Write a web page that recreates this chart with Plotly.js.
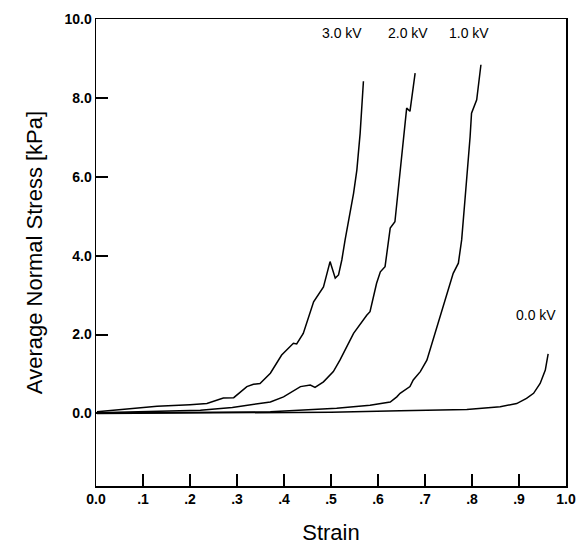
<!DOCTYPE html>
<html>
<head>
<meta charset="utf-8">
<script src="https://cdn.plot.ly/plotly-3.0.1.min.js"></script>
<style>html,body{margin:0;padding:0;background:#fff}#chart{width:585px;height:545px}#diag{position:absolute;left:2px;bottom:0;font:9px sans-serif;color:#999}</style>
</head>
<body>
<div id="chart"></div>
<div id="diag"></div>
<script>
window.onerror = function(m){ document.getElementById('diag').textContent += ' ERR:' + m; };
// Series: strain (x) vs average normal stress in kPa (y)
const kv30_strain = [0.002,0.059,0.130,0.200,0.236,0.271,0.293,0.321,0.335,0.349,0.371,0.395,0.420,0.427,0.441,0.463,0.484,0.498,0.509,0.516,0.523,0.530,0.548,0.555,0.562,0.569];
const kv30_stress = [0.04,0.11,0.18,0.22,0.25,0.39,0.40,0.68,0.74,0.76,1.02,1.48,1.78,1.76,2.03,2.83,3.21,3.85,3.43,3.51,3.89,4.40,5.58,6.17,7.10,8.42];

const kv20_strain = [0.002,0.115,0.222,0.290,0.328,0.350,0.371,0.399,0.435,0.456,0.466,0.484,0.505,0.519,0.548,0.576,0.583,0.597,0.605,0.615,0.622,0.626,0.636,0.647,0.661,0.668,0.679];
const kv20_stress = [0.02,0.05,0.08,0.15,0.21,0.25,0.29,0.42,0.68,0.72,0.66,0.80,1.06,1.35,2.03,2.49,2.58,3.30,3.59,3.72,4.40,4.70,4.86,6.17,7.74,7.66,8.63];

const kv10_strain = [0.002,0.222,0.371,0.512,0.583,0.626,0.640,0.647,0.668,0.675,0.690,0.704,0.725,0.753,0.760,0.771,0.778,0.785,0.792,0.796,0.799,0.810,0.819];
const kv10_stress = [0.01,0.02,0.04,0.13,0.21,0.29,0.42,0.51,0.68,0.85,1.06,1.35,2.20,3.30,3.55,3.81,4.40,5.41,6.35,7.02,7.61,7.95,8.84];

const kv00_strain = [0.002,0.300,0.500,0.647,0.789,0.860,0.895,0.916,0.931,0.945,0.956,0.962];
const kv00_stress = [0.00,0.01,0.03,0.07,0.10,0.17,0.25,0.38,0.51,0.76,1.10,1.51];

const series_labels = ["3.0 kV","2.0 kV","1.0 kV","0.0 kV"];
const label_x = [0.523,0.663,0.794,0.937];
const label_y = [9.65,9.65,9.65,2.49];

const x_tickvals = [0,0.1,0.2,0.3,0.4,0.5,0.6,0.7,0.8,0.9,1.0];
const x_ticktext = ["0.0",".1",".2",".3",".4",".5",".6",".7",".8",".9","1.0"];
const y_tickvals = [0,2,4,6,8,10];
const y_ticktext = ["0.0","2.0","4.0","6.0","8.0","10.0"];

const FONT = "Liberation Sans, Arial, sans-serif";

// all four curves in one black line trace, separated by gaps
const all_x = [].concat(kv30_strain, [null], kv20_strain, [null], kv10_strain, [null], kv00_strain);
const all_y = [].concat(kv30_stress, [null], kv20_stress, [null], kv10_stress, [null], kv00_stress);

const annotations = series_labels.map((t,i)=>({
  x:label_x[i], y:label_y[i], xref:"x", yref:"y", text:t, showarrow:false,
  font:{family:FONT, size:14, color:"#000"}
}));

const layout = {
  width:585, height:545,
  margin:{l:96, r:19, t:19, b:59},
  showlegend:false,
  font:{family:FONT, color:"#000"},
  xaxis:{
    range:[0,1], tickmode:"array", tickvals:x_tickvals, ticktext:x_ticktext,
    ticks:"inside", ticklen:12, tickwidth:2, tickcolor:"#000",
    showline:true, linecolor:"#000", linewidth:1.5, mirror:true,
    showgrid:false, zeroline:false,
    tickfont:{family:FONT, size:14, color:"#000", weight:"bold"},
    title:{text:"Strain", font:{family:FONT, size:22, color:"#000"}}
  },
  yaxis:{
    range:[-1.84,10], tickmode:"array", tickvals:y_tickvals, ticktext:y_ticktext,
    ticks:"inside", ticklen:12, tickwidth:2, tickcolor:"#000",
    showline:true, linecolor:"#000", linewidth:1.5, mirror:true,
    showgrid:false, zeroline:false,
    tickfont:{family:FONT, size:14, color:"#000", weight:"bold"},
    title:{text:"Average Normal Stress [kPa]", font:{family:FONT, size:22, color:"#000"}}
  },
  annotations:annotations
};
try {
  Plotly.newPlot("chart", [{x:all_x, y:all_y, mode:"lines", line:{color:"#000", width:1.5}}], layout, {staticPlot:true, displayModeBar:false})
    .then(function(){
      var n = document.querySelectorAll('#chart path.xtick, #chart path.ytick').length;
      if(n === 0){ document.getElementById('diag').textContent += ' ticks:0'; }
    })
    .catch(function(e){ document.getElementById('diag').textContent += ' P:' + e; });
} catch(e) { document.getElementById('diag').textContent += ' T:' + e; }
</script>
</body>
</html>
